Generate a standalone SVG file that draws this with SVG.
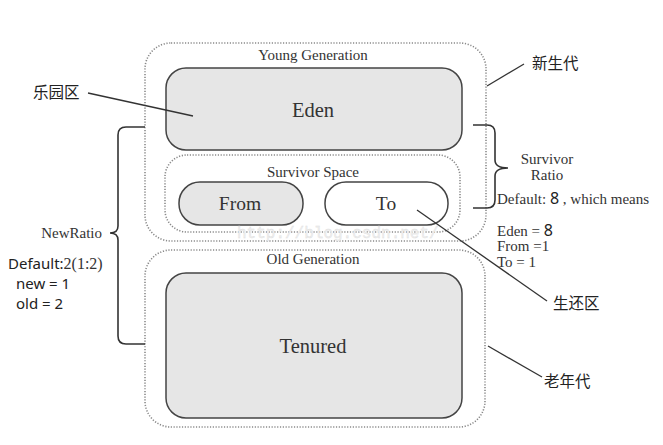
<svg xmlns="http://www.w3.org/2000/svg" width="663" height="445" viewBox="0 0 663 445">
<style>
.bg{fill:#ffffff}
.dot{fill:none;stroke:#8a8a8a;stroke-width:1.6;stroke-dasharray:1.2 1.6}
.box{fill:#e6e6e6;stroke:#444;stroke-width:1.5}
.wbox{fill:#ffffff;stroke:#444;stroke-width:1.5}
.ser{font-family:"Liberation Serif","DejaVu Serif",serif;fill:#333}
.sans{font-family:"Noto Sans","Liberation Sans",sans-serif;fill:#222}
.cjk{font-family:"Noto Sans CJK SC","Noto Sans",sans-serif;fill:#222;font-size:15.5px}
.ln{fill:none;stroke:#333;stroke-width:1.3}
.br{fill:none;stroke:#333;stroke-width:1.6}
.mid{text-anchor:middle}
</style>
<rect class="bg" x="0" y="0" width="663" height="445"/>
<g id="young-generation">
<rect class="dot" x="145" y="43" width="341" height="198" rx="26"/>
<text class="ser mid" x="313" y="60" font-size="15">Young Generation</text>
</g>
<g id="eden">
<rect class="box" x="166" y="68" width="296" height="82" rx="20"/>
<text class="ser mid" x="313" y="117" font-size="20.5">Eden</text>
</g>
<g id="survivor-space">
<rect class="dot" x="165" y="155" width="295" height="77" rx="22"/>
<text class="ser mid" x="313" y="177" font-size="15">Survivor Space</text>
</g>
<g id="from">
<rect class="box" x="179" y="182" width="124" height="43" rx="21"/>
<text class="ser mid" x="240" y="210" font-size="19.5">From</text>
</g>
<g id="to">
<rect class="wbox" x="325" y="182" width="123" height="43" rx="21"/>
<text class="ser mid" x="386" y="210" font-size="19.5">To</text>
</g>
<g id="old-generation">
<rect class="dot" x="145" y="250" width="340" height="177" rx="26"/>
<text class="ser mid" x="313" y="264" font-size="15">Old Generation</text>
</g>
<g id="tenured">
<rect class="box" x="166" y="273" width="296" height="145" rx="20"/>
<text class="ser mid" x="313" y="353" font-size="20.5">Tenured</text>
</g>
<g id="watermark">
<text x="237" y="238" font-family="Liberation Mono,monospace" font-size="16" fill="#efefef" stroke="#dcdcdc" stroke-width="0.3">http://blog.csdn.net/</text>
</g>
<g id="connectors">
<path class="br" d="M145,127 H126 Q118,127 118,135 V226 Q118,233 110,233 Q118,233 118,240 V336 Q118,344 126,344 H145"/>
<path class="br" d="M473,125 H487 Q495,125 495,133 V160 Q495,168 508,168 Q495,168 495,176 V200 Q495,208 487,208 H473"/>
<line class="ln" x1="88" y1="93" x2="193" y2="116"/>
<line class="ln" x1="487" y1="86" x2="524" y2="64"/>
<line class="ln" x1="417" y1="210" x2="547" y2="301"/>
<line class="ln" x1="488" y1="346" x2="542" y2="377"/>
</g>
<g id="labels">
<text class="cjk" x="33" y="98">乐园区</text>
<text class="cjk" x="532" y="69">新生代</text>
<text class="cjk" x="553" y="309">生还区</text>
<text class="cjk" x="544" y="387">老年代</text>
<text class="ser" x="102" y="238" font-size="15" text-anchor="end">NewRatio</text>
<text x="8" y="269" font-size="15"><tspan class="sans">Default:</tspan><tspan class="ser" font-size="16">2(1:2)</tspan></text>
<text class="sans" x="16" y="289" font-size="15">new = 1</text>
<text class="sans" x="16" y="309" font-size="15">old = 2</text>
<text class="ser mid" x="547" y="164" font-size="15">Survivor</text>
<text class="ser mid" x="547" y="180" font-size="15">Ratio</text>
<text x="497" y="204" font-size="15"><tspan class="ser">Default: </tspan><tspan class="sans" font-size="16">8</tspan><tspan class="ser"> , which means</tspan></text>
<text x="497" y="236" font-size="15"><tspan class="ser">Eden = </tspan><tspan class="sans" font-size="16">8</tspan></text>
<text class="ser" x="497" y="251" font-size="15">From =1</text>
<text class="ser" x="497" y="267" font-size="15">To = 1</text>
</g>
</svg>
